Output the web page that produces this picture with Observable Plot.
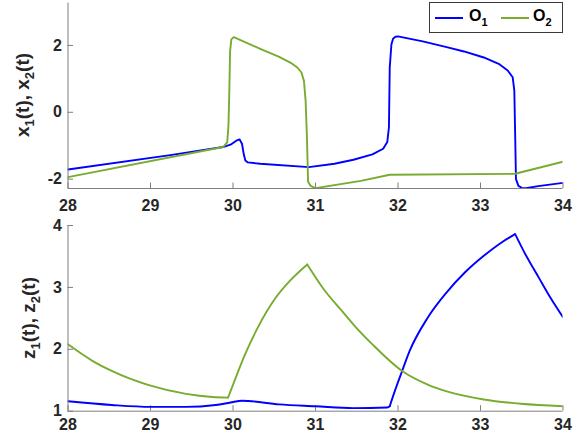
<!DOCTYPE html>
<html><head><meta charset="utf-8">
<script src="https://cdn.jsdelivr.net/npm/d3@7"></script>
<script src="https://cdn.jsdelivr.net/npm/@observablehq/plot@0.6"></script>
<style>
body{margin:0;background:#fff;}
#chart{position:relative;width:583px;height:441px;font-family:"Liberation Sans",Arial,sans-serif;font-weight:bold;color:#262626;}
#chart svg{display:block;overflow:visible;}
.legend{position:absolute;left:429px;top:2px;width:134px;height:31px;border:1px solid #3a3a3a;background:#fff;box-sizing:border-box;font-size:16px;font-weight:bold;color:#000;}
.legend .sw{position:absolute;top:14px;width:28px;height:0;border-top:2px solid;}
.legend .lab{position:absolute;top:4px;line-height:18px;}
.legend sub{font-size:11px;vertical-align:-5px;line-height:0;}
</style></head><body><div id="chart"></div><script>
// ---- data ----
const xTicks = [28, 29, 30, 31, 32, 33, 34];
const yTicksTop = [-2, 0, 2];
const yTicksBottom = [1, 2, 3, 4];
const seriesNames = ["O1", "O2"];
const colors = ["#0000ff", "#77ac30"];

const tX1 = [28, 29.24, 29.88, 29.97, 30.04, 30.08, 30.11, 30.13, 30.15, 30.18, 30.33, 30.92, 31.23, 31.46, 31.69, 31.82, 31.87, 31.89, 31.9, 31.92, 31.94, 31.97, 32.0, 32.3, 32.59, 32.8, 33.04, 33.22, 33.33, 33.39, 33.41, 33.42, 33.43, 33.46, 33.5, 33.55, 33.7, 34];
const x1  = [-1.71, -1.28, -1.04, -0.97, -0.85, -0.81, -0.95, -1.25, -1.44, -1.5, -1.54, -1.64, -1.54, -1.42, -1.26, -1.09, -0.89, -0.45, 1.34, 2.03, 2.2, 2.26, 2.27, 2.12, 1.95, 1.82, 1.64, 1.45, 1.25, 1.05, 0.65, -0.65, -2.0, -2.2, -2.26, -2.27, -2.21, -2.11];

const tX2 = [28, 29.88, 29.93, 29.945, 29.955, 29.965, 29.98, 30.01, 30.33, 30.56, 30.7, 30.78, 30.83, 30.86, 30.88, 30.895, 30.91, 30.94, 31.0, 31.55, 31.9, 33.42, 34];
const x2  = [-1.94, -1.04, -0.9, -0.4, 0.6, 1.84, 2.18, 2.25, 1.9, 1.66, 1.48, 1.34, 1.19, 0.94, 0.35, -0.65, -2.08, -2.2, -2.27, -2.05, -1.87, -1.84, -1.48];

const tZ1 = [28, 28.53, 29.0, 29.43, 29.79, 29.97, 30.11, 30.56, 31.0, 31.46, 31.87, 31.9, 31.96, 32.05, 32.14, 32.36, 32.59, 32.81, 33.04, 33.26, 33.42, 33.53, 33.71, 33.85, 34];
const z1  = [1.16, 1.10, 1.07, 1.07, 1.10, 1.14, 1.17, 1.11, 1.08, 1.05, 1.06, 1.08, 1.32, 1.65, 1.97, 2.51, 2.92, 3.24, 3.51, 3.73, 3.86, 3.57, 3.15, 2.83, 2.52];
const z1Breaks = [31.9, 33.42];   // corners where the curve changes course

const tZ2 = [28, 28.3, 28.53, 28.98, 29.43, 29.75, 29.94, 30.05, 30.15, 30.3, 30.5, 30.7, 30.9, 31.1, 31.32, 31.46, 31.69, 32.05, 32.36, 32.59, 33.04, 33.49, 34];
const z2  = [2.08, 1.81, 1.65, 1.42, 1.28, 1.23, 1.22, 1.6, 1.93, 2.35, 2.8, 3.12, 3.37, 2.97, 2.62, 2.4, 2.08, 1.65, 1.43, 1.32, 1.19, 1.12, 1.08];
const z2Breaks = [29.94, 30.9];

const xDomain = [28, 34];
const yDomainTop = [-2.28, 3.27];
const yDomainBottom = [1, 4];

// ---- build ----
// split a series into pieces at its corners; each piece shares the corner point
function toRows(t, v, s, breaks = []) {
  const rows = [];
  t.forEach((d, i) => {
    const seg = breaks.filter(b => d > b).length;
    rows.push({t: d, v: v[i], s, g: s + "-" + seg});
    if (breaks.includes(d)) rows.push({t: d, v: v[i], s, g: s + "-" + (seg + 1)});
  });
  return rows;
}
const topRows = [...toRows(tX1, x1, seriesNames[0]), ...toRows(tX2, x2, seriesNames[1])];
const botRows = [...toRows(tZ1, z1, seriesNames[0], z1Breaks), ...toRows(tZ2, z2, seriesNames[1], z2Breaks)];

const axisColor = "#7f7f7f";
const textColor = "#262626";

function panel({rows, yDomain, yTicks, height, marginTop, marginBottom, xPad, tickLenPx, plotH, curve}) {
  const xTickLen = (yDomain[1] - yDomain[0]) * tickLenPx / plotH;
  const yTickLen = (xDomain[1] - xDomain[0]) * tickLenPx / 495;
  return Plot.plot({
    width: 583, height, marginLeft: 67.5, marginRight: 20.5, marginTop, marginBottom,
    style: {fontFamily: '"Liberation Sans", Arial, sans-serif', fontSize: "16px", fontWeight: "bold", color: textColor, background: "transparent", overflow: "visible"},
    x: {domain: xDomain},
    y: {domain: yDomain},
    color: {domain: seriesNames, range: colors},
    marks: [
      Plot.axisX(xTicks, {tickSize: 0, tickPadding: xPad, label: null, fill: textColor, tickFormat: d => String(d)}),
      Plot.axisY(yTicks, {tickSize: 0, tickPadding: 6, label: null, fill: textColor, tickFormat: d => String(d)}),
      Plot.ruleX(xTicks, {x: d => d, y1: yDomain[0], y2: yDomain[0] + xTickLen, stroke: axisColor, strokeWidth: 1}),
      Plot.ruleY(yTicks, {y: d => d, x1: xDomain[0], x2: xDomain[0] + yTickLen, stroke: axisColor, strokeWidth: 1}),
      Plot.line(rows, {x: "t", y: "v", z: "g", stroke: "s", strokeWidth: 1.9, curve, clip: true}),
      Plot.ruleX([xDomain[0]], {stroke: axisColor, strokeWidth: 1}),
      Plot.ruleY([yDomain[0]], {stroke: axisColor, strokeWidth: 1})
    ]
  });
}

function addYLabel(svg, x, y, letter) {
  const t = d3.select(svg).append("text")
    .attr("transform", `translate(${x},${y}) rotate(-90)`)
    .attr("text-anchor", "middle")
    .attr("fill", textColor)
    .style("font-size", "19px").style("font-weight", "bold");
  t.append("tspan").text(letter);
  t.append("tspan").text("1").style("font-size", "13px").attr("dy", 5);
  t.append("tspan").text("(t), " + letter).attr("dy", -5);
  t.append("tspan").text("2").style("font-size", "13px").attr("dy", 5);
  t.append("tspan").text("(t)").attr("dy", -5);
}

const chartEl = document.getElementById("chart");
const topSvg = panel({rows: topRows, yDomain: yDomainTop, yTicks: yTicksTop, height: 222, marginTop: 2.5, marginBottom: 34, xPad: 11, tickLenPx: 5.5, plotH: 185.5, curve: "linear"});
const botSvg = panel({rows: botRows, yDomain: yDomainBottom, yTicks: yTicksBottom, height: 219, marginTop: 3, marginBottom: 30.3, xPad: 7, tickLenPx: 5.5, plotH: 185.7, curve: "monotone-x"});
addYLabel(topSvg, 29, 95, "x");
addYLabel(botSvg, 35, 96, "z");
chartEl.appendChild(topSvg);
chartEl.appendChild(botSvg);

// legend
const lg = document.createElement("div");
lg.className = "legend";
const items = [{x: 5, lx: 39}, {x: 71, lx: 103}];
items.forEach((it, i) => {
  const sw = document.createElement("div");
  sw.className = "sw"; sw.style.left = it.x + "px"; sw.style.borderTopColor = colors[i];
  lg.appendChild(sw);
  const lab = document.createElement("div");
  lab.className = "lab"; lab.style.left = it.lx + "px";
  lab.innerHTML = seriesNames[i][0] + "<sub>" + seriesNames[i].slice(1) + "</sub>";
  lg.appendChild(lab);
});
chartEl.appendChild(lg);
</script></body></html>
